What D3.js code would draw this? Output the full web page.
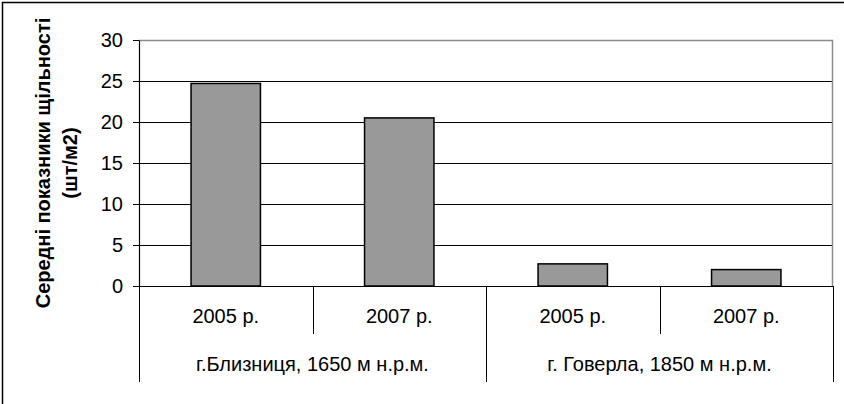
<!DOCTYPE html>
<html>
<head>
<meta charset="utf-8">
<script src="https://cdn.jsdelivr.net/npm/d3@7"></script>
<style>
  body { margin: 0; background: #fff; }
  text { font-family: "Liberation Sans", Arial, sans-serif; fill: #000; }
</style>
</head>
<body>
<div id="chart"></div>
<script>
// values
const years = ["2005 р.", "2007 р.", "2005 р.", "2007 р."];
const sites = ["г.Близниця, 1650 м н.р.м.", "г. Говерла, 1850 м н.р.м."];
const density = [24.7, 20.5, 2.7, 2.0];
const yTicks = [0, 5, 10, 15, 20, 25, 30];
const yTitle = ["Середні показники щільності", "(шт/м2)"];

const W = 844, H = 404;
const margin = {top: 40, right: 11, bottom: 118, left: 139};
const width = W - margin.left - margin.right;
const height = H - margin.top - margin.bottom;

const svg = d3.select("#chart").append("svg")
    .attr("width", W)
    .attr("height", H);

// outer chart frame (only top and left are in view)
svg.append("rect")
    .attr("x", 2.5).attr("y", 2.5)
    .attr("width", W + 20).attr("height", H + 20)
    .attr("fill", "none")
    .attr("stroke", "#000")
    .attr("stroke-width", 1.5);

const g = svg.append("g")
    .attr("transform", `translate(${margin.left},${margin.top})`);

const keys = d3.range(years.length);
const x = d3.scaleBand()
    .domain(keys)
    .range([0, width])
    .paddingInner(0.6)
    .paddingOuter(0.3);

const y = d3.scaleLinear()
    .domain([0, 30])
    .range([height, 0]);

// grid lines
g.selectAll(".grid")
    .data(yTicks.filter(d => d > 0 && d < 30))
    .enter()
    .append("line")
      .attr("x1", 0).attr("x2", width)
      .attr("y1", d => y(d) + 0.5).attr("y2", d => y(d) + 0.5)
      .attr("stroke", "#000")
      .attr("stroke-width", 1);

// plot border top + right (gray)
g.append("path")
    .attr("d", `M0,${y(30) + 0.5}H${width - 0.5}V${height}`)
    .attr("fill", "none")
    .attr("stroke", "#8c8c8c")
    .attr("stroke-width", 1.5);

// bars
g.selectAll("rect.bar")
    .data(density)
    .enter()
    .append("rect")
      .attr("class", "bar")
      .attr("x", (d, i) => x(i))
      .attr("y", d => y(d))
      .attr("width", x.bandwidth())
      .attr("height", d => height - y(d))
      .attr("fill", "#999999")
      .attr("stroke", "#000")
      .attr("stroke-width", 1.5);

// Y axis
const yAxis = g.append("g")
    .call(d3.axisLeft(y).tickValues(yTicks).tickSize(6).tickPadding(10).tickSizeOuter(0));
yAxis.select(".domain").attr("stroke", "#000").attr("stroke-width", 1.2);
yAxis.selectAll(".tick line").attr("stroke", "#000");
yAxis.selectAll("text")
    .style("font-size", "20px")
    .attr("font-family", null);

// category table below the plot
const step = width / years.length;
g.append("line")
    .attr("x1", -6).attr("x2", width)
    .attr("y1", height + 0.5).attr("y2", height + 0.5)
    .attr("stroke", "#000").attr("stroke-width", 1.2);

g.selectAll(".divider")
    .data(d3.range(years.length + 1))
    .enter()
    .append("line")
      .attr("x1", d => Math.round(d * step) + 0.5)
      .attr("x2", d => Math.round(d * step) + 0.5)
      .attr("y1", height)
      .attr("y2", d => d % 2 === 0 ? height + 96 : height + 48)
      .attr("stroke", "#000")
      .attr("stroke-width", 1);

g.selectAll(".year")
    .data(years)
    .enter()
    .append("text")
      .attr("x", (d, i) => x(i) + x.bandwidth() / 2)
      .attr("y", height + 37)
      .attr("text-anchor", "middle")
      .style("font-size", "20px")
      .text(d => d);

g.selectAll(".site")
    .data(sites)
    .enter()
    .append("text")
      .attr("x", (d, i) => (i * 2 + 1) * step)
      .attr("y", height + 85)
      .attr("text-anchor", "middle")
      .style("font-size", "20px")
      .text(d => d);

// Y title, two lines
svg.selectAll(".ytitle")
    .data(yTitle)
    .enter()
    .append("text")
      .attr("transform", (d, i) => `translate(${50 + i * 27},163)rotate(-90)`)
      .attr("text-anchor", "middle")
      .style("font-size", "20px")
      .style("font-weight", "bold")
      .text(d => d);
</script>
</body>
</html>
